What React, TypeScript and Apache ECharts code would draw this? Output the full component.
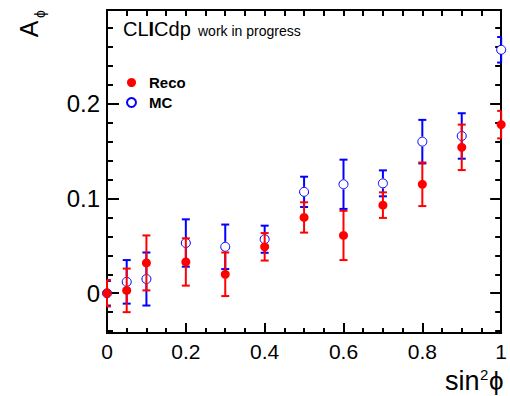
import React, { useEffect, useRef } from "react";
import * as echarts from "echarts";

// ---- data ----
const xValues = [0, 0.05, 0.1, 0.2, 0.3, 0.4, 0.5, 0.6, 0.7, 0.8, 0.9, 1.0];
const recoValues = [0, 0.003, 0.032, 0.033, 0.02, 0.049, 0.08, 0.061, 0.093, 0.115, 0.154, 0.178];
const recoErrors = [0.014, 0.023, 0.029, 0.025, 0.023, 0.0145, 0.016, 0.026, 0.0135, 0.023, 0.024, 0.0145];
const mcValues = [0, 0.012, 0.015, 0.053, 0.049, 0.057, 0.107, 0.115, 0.116, 0.16, 0.166, 0.257];
const mcErrors = [0.013, 0.023, 0.028, 0.025, 0.0235, 0.0143, 0.016, 0.026, 0.0137, 0.023, 0.024, 0.0135];

// ---- ticks ----
const xMajorTicks = [0, 0.2, 0.4, 0.6, 0.8, 1];
const xMinorTicks = [0.05, 0.1, 0.15, 0.25, 0.3, 0.35, 0.45, 0.5, 0.55, 0.65, 0.7, 0.75, 0.85, 0.9, 0.95];
const yMajorTicks = [0, 0.1, 0.2];
const yMinorTicks = [-0.04, -0.02, 0.02, 0.04, 0.06, 0.08, 0.12, 0.14, 0.16, 0.18, 0.22, 0.24, 0.26, 0.28];
const xRange = [0, 1];
const yRange = [-0.042, 0.299];

const FONT = "Liberation Sans";
const PHI = "\u03D5";

function axis(dim: "x" | "y", position: string, ticks: number[], len: number, showLine: boolean, labels: boolean, labelSize: number) {
  const range = dim === "x" ? xRange : yRange;
  return {
    type: "value",
    position,
    min: range[0],
    max: range[1],
    axisLine: { show: showLine, onZero: false, lineStyle: { color: "#000", width: 2 } },
    axisTick: { show: true, inside: true, length: len, customValues: ticks, lineStyle: { color: "#000", width: 2 } },
    axisLabel: labels
      ? { show: true, customValues: ticks, fontSize: labelSize, color: "#000", fontFamily: FONT, margin: dim === "x" ? 8 : 7, formatter: (v: number) => String(v) }
      : { show: false },
    splitLine: { show: false },
    minorTick: { show: false },
  };
}

function errRender(color: string, gap: number) {
  return (params: any, api: any) => {
    const x = api.value(0);
    const y = api.value(1);
    const e = api.value(2);
    const [cx, cy] = api.coord([x, y]);
    const top = api.coord([x, y + e])[1];
    const bot = api.coord([x, y - e])[1];
    const cs = params.coordSys;
    const half = 4;
    const x1 = Math.max(cx - half, cs.x);
    const x2 = Math.min(cx + half, cs.x + cs.width);
    const style = { stroke: color, lineWidth: 2, opacity: 1 };
    return {
      type: "group",
      children: [
        { type: "line", shape: { x1: cx, y1: top, x2: cx, y2: cy - gap }, style },
        { type: "line", shape: { x1: cx, y1: cy + gap, x2: cx, y2: bot }, style },
        { type: "line", shape: { x1, y1: top, x2, y2: top }, style },
        { type: "line", shape: { x1, y1: bot, x2, y2: bot }, style },
      ],
    };
  };
}

export default function App() {
  const ref = useRef<HTMLDivElement>(null);
  useEffect(() => {
    if (!ref.current) return;
    const chart = echarts.init(ref.current, null, { renderer: "svg" });
    const recoData = xValues.map((x, i) => [x, recoValues[i], recoErrors[i]]);
    const mcData = xValues.map((x, i) => [x, mcValues[i], mcErrors[i]]);
    chart.setOption({
      animation: false,
      backgroundColor: "#fff",
      grid: { left: 107, right: 4, top: 10, bottom: 63, containLabel: false },
      xAxis: [
        axis("x", "bottom", xMajorTicks, 10, true, true, 21),
        axis("x", "bottom", xMinorTicks, 5, false, false, 0),
        axis("x", "top", xMajorTicks, 6, true, false, 0),
        axis("x", "top", xMinorTicks, 6, false, false, 0),
      ],
      yAxis: [
        axis("y", "left", yMajorTicks, 12, true, true, 24),
        axis("y", "left", yMinorTicks, 6, false, false, 0),
        axis("y", "right", yMajorTicks, 11, true, false, 0),
        axis("y", "right", yMinorTicks, 6, false, false, 0),
      ],
      legend: {
        data: ["Reco", "MC"],
        orient: "vertical",
        left: 126,
        top: 75,
        itemWidth: 25,
        itemHeight: 9,
        itemGap: 5,
        padding: 0,
        selectedMode: false,
        textStyle: { fontSize: 15, fontWeight: "bold", fontFamily: FONT, color: "#000", lineHeight: 15 },
      },
      series: [
        {
          name: "MC err",
          type: "custom",
          xAxisIndex: 0,
          yAxisIndex: 0,
          renderItem: errRender("#0000ff", 5),
          data: mcData,
          encode: { x: 0, y: 1 },
          z: 2,
        },
        {
          name: "MC",
          type: "scatter",
          xAxisIndex: 0,
          yAxisIndex: 0,
          symbol: "circle",
          symbolSize: 9,
          clip: false,
          itemStyle: { color: "#ffffff", borderColor: "#0000ff", borderWidth: 1, opacity: 1 },
          data: mcData.map((d) => [d[0], d[1]]),
          z: 3,
        },
        {
          name: "Reco err",
          type: "custom",
          xAxisIndex: 0,
          yAxisIndex: 0,
          renderItem: errRender("#ff0000", 4),
          data: recoData,
          encode: { x: 0, y: 1 },
          z: 4,
        },
        {
          name: "Reco",
          type: "scatter",
          xAxisIndex: 0,
          yAxisIndex: 0,
          symbol: "circle",
          symbolSize: 9,
          clip: false,
          itemStyle: { color: "#ff0000", opacity: 1 },
          data: recoData.map((d) => [d[0], d[1]]),
          z: 5,
        },
      ],
      graphic: [
        { type: "text", x: 29, y: 29, rotation: Math.PI / 2, style: { text: "A", fontSize: 25, fontFamily: FONT, fill: "#000", align: "center", verticalAlign: "middle" } },
        { type: "text", x: 40, y: 14, rotation: Math.PI / 2, style: { text: PHI, fontSize: 14, fontFamily: FONT, fill: "#000", align: "center", verticalAlign: "middle" } },
        { type: "text", x: 479.5, y: 380.6, style: { text: "sin", fontSize: 27, fontFamily: FONT, fill: "#000", align: "right", verticalAlign: "middle" } },
        { type: "text", x: 480, y: 374, style: { text: "2", fontSize: 15, fontFamily: FONT, fill: "#000", align: "left", verticalAlign: "middle" } },
        { type: "text", x: 489, y: 380.6, style: { text: PHI, fontSize: 26, fontFamily: FONT, fill: "#000", align: "left", verticalAlign: "middle" } },
        { type: "text", x: 123, y: 29.2, style: { text: "{n|CL}{b|I}{n|Cdp}", fontFamily: FONT, fill: "#000", align: "left", verticalAlign: "middle", rich: { n: { fontSize: 20, fontFamily: FONT }, b: { fontSize: 20, fontWeight: "bold", fontFamily: FONT } } } },
        { type: "text", x: 198, y: 31, style: { text: "work in progress", fontSize: 14, fontFamily: FONT, fill: "#000", align: "left", verticalAlign: "middle" } },
      ],
    });
    return () => chart.dispose();
  }, []);
  return <div ref={ref} style={{ width: 510, height: 396, position: "absolute", left: 0, top: 0 }} />;
}
